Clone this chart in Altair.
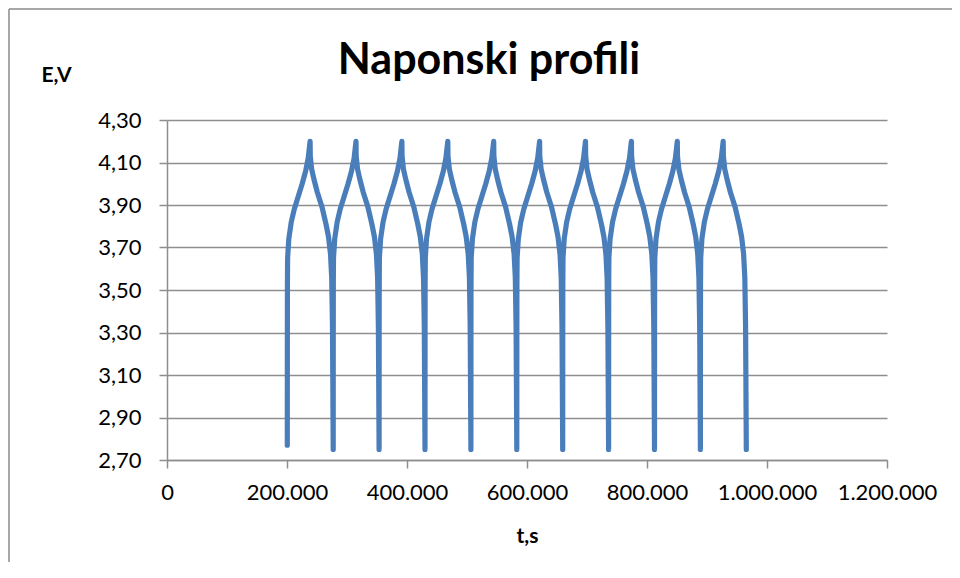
import altair as alt
import pandas as pd

# --- data ---
cycle_starts = [200500, 277000, 353500, 430000, 506500, 583000, 659500, 736000, 812500, 889000]
first_start_v = 2.77
# charge branch: seconds after cycle start, voltage
charge_dt = [0, 100, 200, 500, 2500, 6600, 11600, 18200, 24800, 30600, 34800, 38000]
charge_v = [2.75, 3.30, 3.52, 3.65, 3.74, 3.82, 3.88, 3.94, 4.00, 4.06, 4.12, 4.20]
# discharge branch: seconds after cycle start, voltage
discharge_dt = [38300, 40500, 44500, 50000, 57900, 64500, 68700, 72000, 74000, 75300, 76500]
discharge_v = [4.13, 4.07, 4.02, 3.96, 3.89, 3.81, 3.75, 3.67, 3.56, 3.33, 2.75]

y_ticks = [2.7, 2.9, 3.1, 3.3, 3.5, 3.7, 3.9, 4.1, 4.3]
x_ticks = [0, 200000, 400000, 600000, 800000, 1000000, 1200000]

rows = []
for c, t0 in enumerate(cycle_starts):
    for k, (dt, v) in enumerate(zip(charge_dt, charge_v)):
        if c > 0 and k == 0:
            continue  # same point as previous discharge end
        vv = first_start_v if (c == 0 and k == 0) else v
        rows.append((t0 + dt, vv))
    for dt, v in zip(discharge_dt, discharge_v):
        rows.append((t0 + dt, v))
df = pd.DataFrame(rows, columns=["t", "E"])
df["i"] = range(len(df))

FONT = "Lato"
GRID = "#8e8e8e"

line = alt.Chart(df).mark_line(
    color="#4a7ebb", strokeWidth=5.2, strokeCap="round", strokeJoin="round"
).encode(
    x=alt.X("t:Q",
            scale=alt.Scale(domain=[0, 1200000], nice=False, zero=False),
            axis=alt.Axis(values=x_ticks, grid=False, labelOverlap=False, labelFlush=False,
                          labelExpr="replace(replace(format(datum.value, ','), ',', '.'), ',', '.')",
                          title="t,s", titleX=360, titleY=82, titleAlign="center",
                          titleBaseline="alphabetic")),
    y=alt.Y("E:Q",
            scale=alt.Scale(domain=[2.7, 4.3], nice=False, zero=False),
            axis=alt.Axis(values=y_ticks, grid=True, labelOverlap=False, labelFlush=False,
                          labelExpr="replace(format(datum.value, '.2f'), '.', ',')",
                          title="E,V", titleAngle=0, titleX=-126, titleY=-39,
                          titleAlign="left", titleBaseline="alphabetic")),
    order="i:Q",
)

one = pd.DataFrame({"a": [0]})
border_left = alt.Chart(one).mark_rule(color="#8a8a8a", strokeWidth=1.5).encode(
    x=alt.value(-158), y=alt.value(-111), y2=alt.value(460)
)
border_top = alt.Chart(one).mark_rule(color="#8a8a8a", strokeWidth=1.5).encode(
    x=alt.value(-158), x2=alt.value(800), y=alt.value(-111)
)

chart = alt.layer(border_left, border_top, line).properties(
    width=720, height=340,
    autosize=alt.AutoSizeParams(type="none"),
    padding={"left": 159, "top": 112, "right": 65, "bottom": 102},
    title=alt.Title("Naponski profili", font=FONT, fontSize=43, fontWeight="bold",
                    color="black", anchor="middle", frame="group", dx=-38,
                    baseline="alphabetic", offset=-109),
).configure_view(stroke=None).configure_axis(
    labelFont=FONT, labelFontSize=22, labelColor="black",
    titleFont=FONT, titleFontSize=21, titleFontWeight="bold", titleColor="black",
    domainColor=GRID, domainWidth=1.5, tickColor=GRID, tickWidth=1.5, tickSize=8,
    gridColor=GRID, gridWidth=1.5,
).configure_axisY(labelPadding=18).configure_axisX(labelPadding=14)

chart.save("out.html", embed_options={"renderer": "svg", "actions": False})
